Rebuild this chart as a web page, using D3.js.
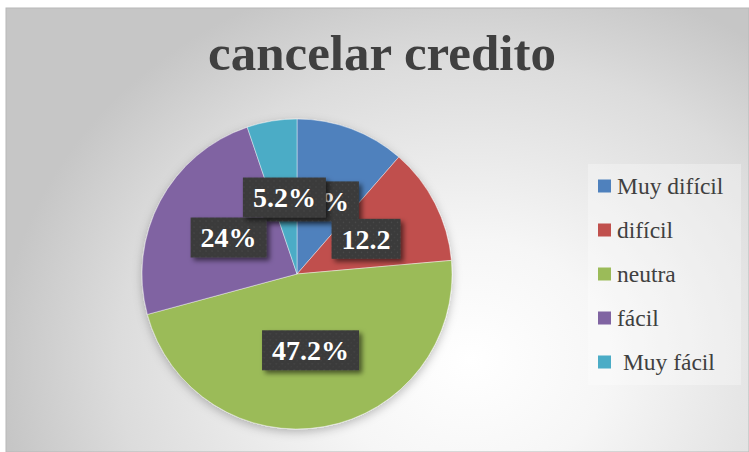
<!DOCTYPE html>
<html>
<head>
<meta charset="utf-8">
<script src="https://cdn.jsdelivr.net/npm/d3@7"></script>
<style>
  html, body { margin: 0; padding: 0; background: #ffffff; }
  svg { display: block; }
</style>
</head>
<body>
<svg id="chart" width="749" height="452"></svg>
<script>
// ---- data ----
const categories = ["Muy difícil", "difícil", "neutra", "fácil", "Muy fácil"];
const values = [11.4, 12.2, 47.2, 24, 5.2];
const labels = ["11.4%", "12.2", "47.2%", "24%", "5.2%"];
const legendLabels = ["Muy difícil", "difícil", "neutra", "fácil", " Muy fácil"];
const colors = ["#4f81bd", "#c0504d", "#9bbb59", "#8064a2", "#4bacc6"];
const title = "cancelar credito";

const W = 749, H = 452;
const svg = d3.select("#chart");
const defs = svg.append("defs");

// background radial gradient
const bg = defs.append("radialGradient")
  .attr("id", "bg").attr("gradientUnits", "userSpaceOnUse")
  .attr("cx", 470).attr("cy", 360).attr("r", 470)
  .attr("gradientTransform", "translate(470,360) scale(1,0.85) translate(-470,-360)");
bg.append("stop").attr("offset", 0).attr("stop-color", "#ffffff");
bg.append("stop").attr("offset", 0.3).attr("stop-color", "#f6f6f6");
bg.append("stop").attr("offset", 0.75).attr("stop-color", "#dcdcdc");
bg.append("stop").attr("offset", 1).attr("stop-color", "#c6c6c6");

// label box dotted pattern
const pat = defs.append("pattern").attr("id", "dots")
  .attr("patternUnits", "userSpaceOnUse").attr("width", 6).attr("height", 6);
pat.append("rect").attr("width", 6).attr("height", 6).attr("fill", "#3a3a3a");
pat.append("circle").attr("cx", 1.5).attr("cy", 1.5).attr("r", 0.8).attr("fill", "#4c4c4c");
pat.append("circle").attr("cx", 4.5).attr("cy", 4.5).attr("r", 0.8).attr("fill", "#444");

const sh = defs.append("filter").attr("id", "boxShadow")
  .attr("x", "-20%").attr("y", "-20%").attr("width", "150%").attr("height", "160%");
sh.append("feDropShadow").attr("dx", 3).attr("dy", 3).attr("stdDeviation", 2.5)
  .attr("flood-color", "#000").attr("flood-opacity", 0.55);

const psh = defs.append("filter").attr("id", "pieShadow")
  .attr("x", "-20%").attr("y", "-20%").attr("width", "140%").attr("height", "140%");
psh.append("feDropShadow").attr("dx", 0).attr("dy", 3).attr("stdDeviation", 5)
  .attr("flood-color", "#000").attr("flood-opacity", 0.25);

// chart area
svg.append("rect").attr("x", 6).attr("y", 8).attr("width", W - 6).attr("height", H - 8)
  .attr("fill", "url(#bg)").attr("stroke", "#b8b8b8").attr("stroke-width", 1);

// title
svg.append("text").attr("x", 382).attr("y", 70)
  .attr("text-anchor", "middle")
  .attr("font-family", "'Liberation Serif', 'DejaVu Serif', serif")
  .attr("font-weight", "bold").attr("font-size", 51)
  .attr("fill", "#404040").text(title);

// pie
const cx = 297, cy = 274, R = 155;
const pie = d3.pie().sort(null).value(d => d)
  .startAngle(0).endAngle(2 * Math.PI);
const arcs = pie(values);
const arc = d3.arc().innerRadius(0).outerRadius(R);
const labelArc = d3.arc().innerRadius(R * 0.5).outerRadius(R * 0.5);

const g = svg.append("g").attr("transform", `translate(${cx},${cy})`);
g.append("g").attr("filter", "url(#pieShadow)")
  .selectAll("path").data(arcs).join("path")
  .attr("d", arc)
  .attr("fill", (d, i) => colors[i])
  .attr("stroke", "#ffffff").attr("stroke-opacity", 0.6).attr("stroke-width", 0.7);

// data labels
const nudge = [-13, 0, 0, 0, 0]; // layout nudge (x) for overlapping label
const lg = g.append("g");
arcs.forEach((d, i) => {
  const [x0, y0] = labelArc.centroid(d);
  const x = x0 + nudge[i], y = y0;
  const grp = lg.append("g").attr("transform", `translate(${x},${y})`);
  const rect = grp.append("rect").attr("fill", "url(#dots)").attr("filter", "url(#boxShadow)");
  const t = grp.append("text").attr("text-anchor", "middle").attr("dy", "0.35em")
    .attr("font-family", "'Liberation Serif', 'DejaVu Serif', serif")
    .attr("font-weight", "bold").attr("font-size", 28)
    .attr("fill", "#ffffff").text(labels[i]);
  const w = t.node().getComputedTextLength() + 20;
  rect.attr("x", -w / 2).attr("y", -20).attr("width", w).attr("height", 40);
});

// legend
const legX = 598, legY0 = 186, legStep = 44;
svg.append("rect").attr("x", 588).attr("y", 164).attr("width", 153).attr("height", 221)
  .attr("fill", "#ffffff").attr("fill-opacity", 0.3);
const leg = svg.append("g");
legendLabels.forEach((lab, i) => {
  const y = legY0 + i * legStep;
  leg.append("rect").attr("x", legX).attr("y", y - 6.5).attr("width", 13).attr("height", 13)
    .attr("fill", colors[i]);
  leg.append("text").attr("x", legX + 19).attr("y", y).attr("dy", "0.35em")
    .attr("font-family", "'Liberation Serif', 'DejaVu Serif', serif")
    .attr("font-size", 23.5).attr("fill", "#404040")
    .attr("xml:space", "preserve").style("white-space", "pre")
    .text(lab);
});
</script>
</body>
</html>
